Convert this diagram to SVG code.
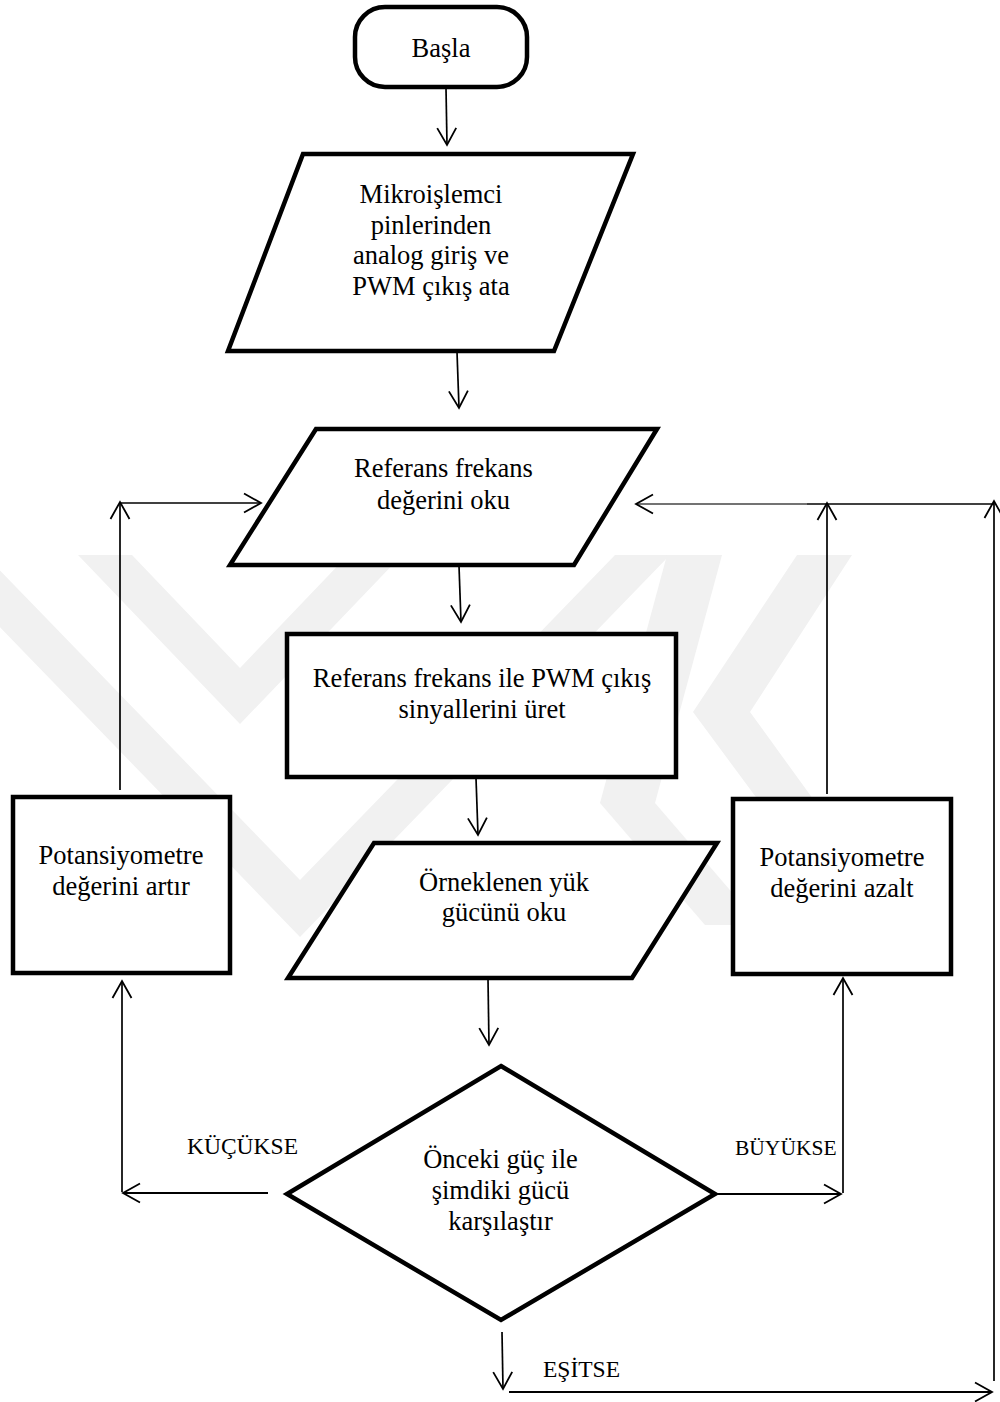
<svg xmlns="http://www.w3.org/2000/svg" width="1000" height="1402" viewBox="0 0 1000 1402">
<style>
  .shape{fill:#ffffff;stroke:#000000;stroke-width:4.5;stroke-linejoin:miter}
  .t{font-family:"Liberation Serif","Times New Roman",serif;font-size:26.5px;fill:#000000;text-anchor:middle}
  .lbl{font-family:"Liberation Serif","Times New Roman",serif;fill:#000000}
  .c{fill:none;stroke:#000000;stroke-width:1.7}
  .wm{fill:#f1f1f1;stroke:none}
</style>
<defs>
  <marker id="arr" markerUnits="userSpaceOnUse" markerWidth="22" markerHeight="22" refX="17" refY="9.5" orient="auto" overflow="visible">
    <path d="M0,0 L17,9.5 L0,19" fill="none" stroke="#000000" stroke-width="1.8"/>
  </marker>
</defs>
<rect width="1000" height="1402" fill="#ffffff"/>
<g id="watermark">
  <path class="wm" d="M-70 555 L-15 555 L300 880 L615 555 L670 555 L300 937 Z"/>
  <path class="wm" d="M78 555 L132 555 L240 668 L348 555 L402 555 L240 724 Z"/>
  <path class="wm" d="M797 555 L852 555 L750 712 L850 850 L795 850 L693 712 Z"/>
  <path class="wm" d="M667 555 L722 555 L655 803 L760 925 L705 925 L600 803 Z"/>
</g>
<g id="connectors">
  <path class="c" d="M446 88 L447 145" marker-end="url(#arr)"/>
  <path class="c" d="M457 352 L459 408" marker-end="url(#arr)"/>
  <path class="c" d="M459 566 L461 622" marker-end="url(#arr)"/>
  <path class="c" d="M476 778 L478 835" marker-end="url(#arr)"/>
  <path class="c" d="M488 979 L489 1045" marker-end="url(#arr)"/>
  <path class="c" d="M120 790 L120 502" marker-end="url(#arr)"/>
  <path class="c" d="M120 503 L261 503" marker-end="url(#arr)"/>
  <path class="c" d="M827 794 L827 503" marker-end="url(#arr)"/>
  <path class="c" d="M994 1381 L994 501" marker-end="url(#arr)"/>
  <path class="c" d="M994 504 L807 504"/>
  <path class="c" style="stroke:#444444" d="M807 504 L636 504" marker-end="url(#arr)"/>
  <path class="c" style="stroke-width:2" d="M268 1193 L123 1193" marker-end="url(#arr)"/>
  <path class="c" d="M122 1192 L122 981" marker-end="url(#arr)"/>
  <path class="c" style="stroke-width:2" d="M717 1194 L841 1194" marker-end="url(#arr)"/>
  <path class="c" d="M843 1193 L843 978" marker-end="url(#arr)"/>
  <path class="c" d="M502 1332 L503 1389" marker-end="url(#arr)"/>
  <path class="c" style="stroke-width:2" d="M509 1392 L992 1392" marker-end="url(#arr)"/>
  <text class="lbl" x="187" y="1154" font-size="23.5">KÜÇÜKSE</text>
  <text class="lbl" x="735" y="1155" font-size="21.5">BÜYÜKSE</text>
  <text class="lbl" x="543" y="1377" font-size="23.5">EŞİTSE</text>
</g>
<g id="start">
  <rect class="shape" x="355" y="7" width="172" height="80" rx="30" ry="30"/>
  <text class="t" x="441" y="57">Başla</text>
</g>
<g id="setup">
  <path class="shape" d="M303 154 L633 154 L554 351 L228 351 Z"/>
  <text class="t"><tspan x="431" y="203">Mikroişlemci</tspan><tspan x="431" y="233.5">pinlerinden</tspan><tspan x="431" y="264">analog giriş ve</tspan><tspan x="431" y="294.5">PWM çıkış ata</tspan></text>
</g>
<g id="readref">
  <path class="shape" d="M316 429 L657 429 L574 565 L230 565 Z"/>
  <text class="t"><tspan x="443.5" y="477">Referans frekans</tspan><tspan x="443.5" y="509">değerini oku</tspan></text>
</g>
<g id="pwm">
  <rect class="shape" x="287" y="634" width="389" height="143"/>
  <text class="t"><tspan x="482" y="687">Referans frekans ile PWM çıkış</tspan><tspan x="482" y="718">sinyallerini üret</tspan></text>
</g>
<g id="readpower">
  <path class="shape" d="M374 843 L717 843 L632 978 L288 978 Z"/>
  <text class="t"><tspan x="504" y="891">Örneklenen yük</tspan><tspan x="504" y="921">gücünü oku</tspan></text>
</g>
<g id="compare">
  <path class="shape" d="M501 1066 L715 1194 L501 1320 L287 1194 Z"/>
  <text class="t"><tspan x="500.5" y="1168">Önceki güç ile</tspan><tspan x="500.5" y="1199">şimdiki gücü</tspan><tspan x="500.5" y="1230">karşılaştır</tspan></text>
</g>
<g id="increase">
  <rect class="shape" x="13" y="797" width="217" height="176"/>
  <text class="t"><tspan x="121" y="864">Potansiyometre</tspan><tspan x="121" y="895">değerini artır</tspan></text>
</g>
<g id="decrease">
  <rect class="shape" x="733" y="799" width="218" height="175"/>
  <text class="t"><tspan x="842" y="866">Potansiyometre</tspan><tspan x="842" y="897">değerini azalt</tspan></text>
</g>
</svg>
